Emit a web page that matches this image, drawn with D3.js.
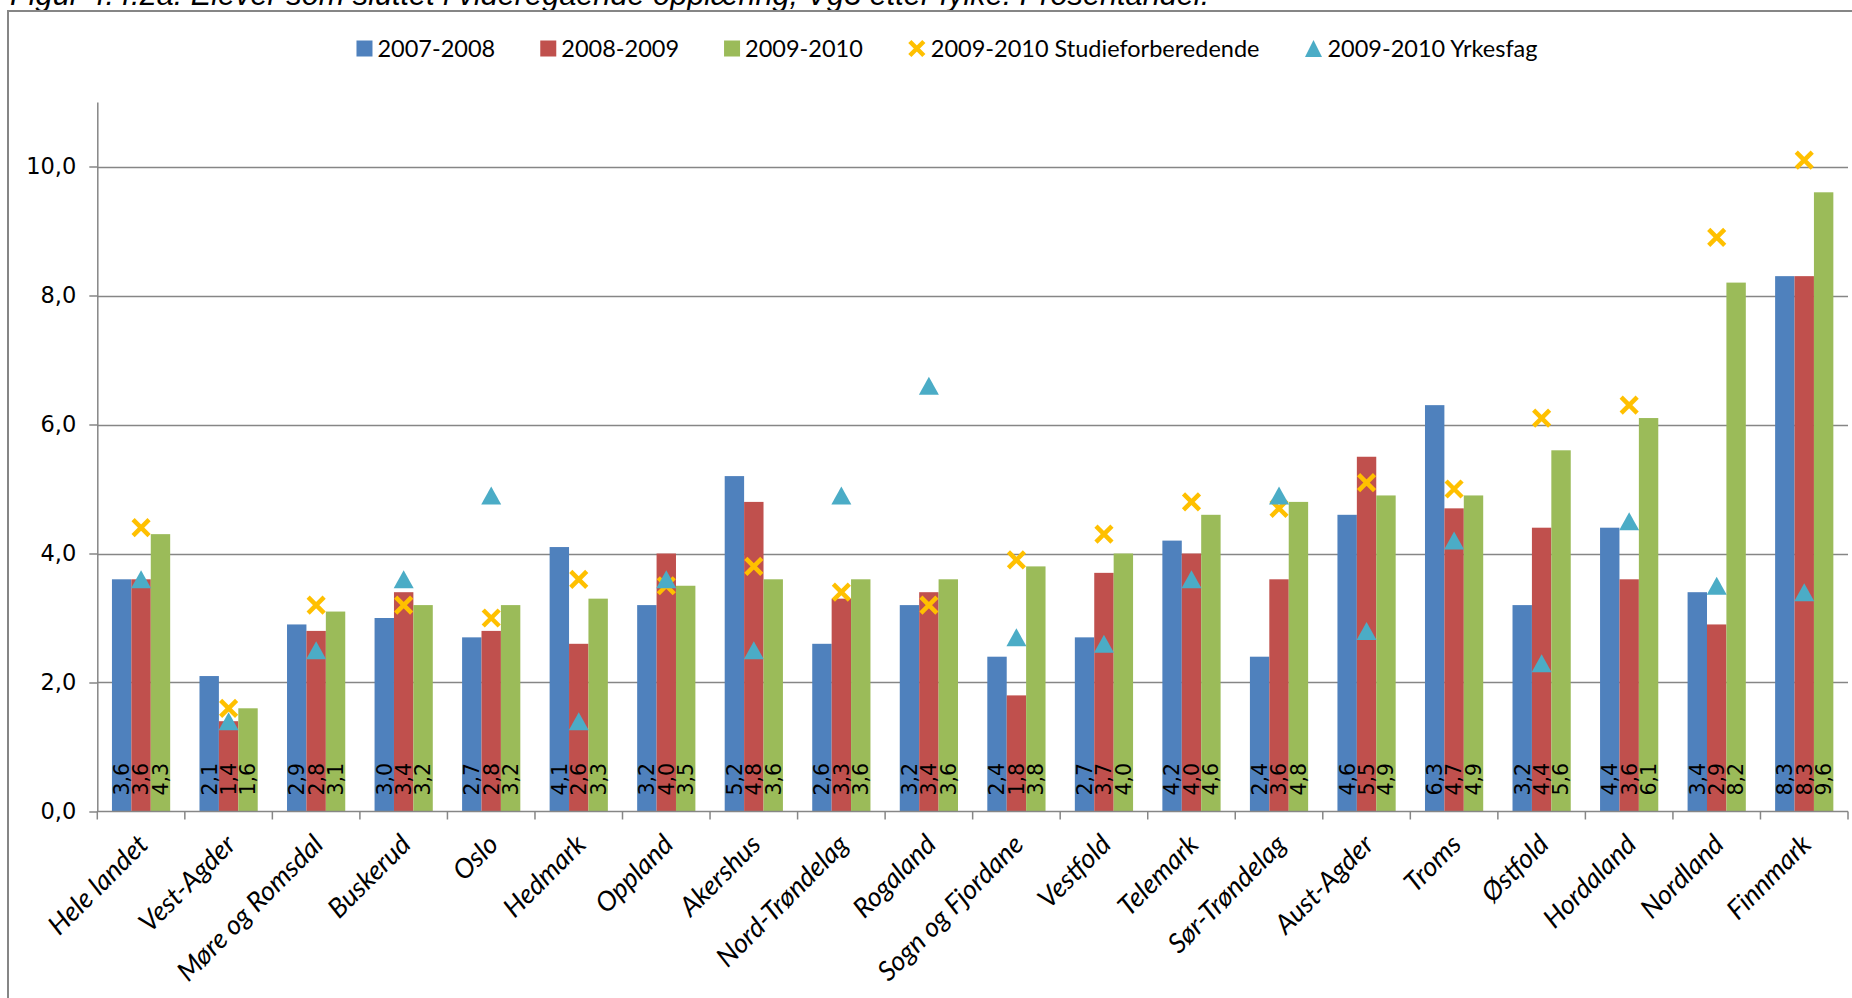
<!DOCTYPE html>
<html>
<head>
<meta charset="utf-8">
<script src="https://cdn.jsdelivr.net/npm/d3@7"></script>
<style>
  html, body { margin: 0; padding: 0; background: #fff; overflow: hidden; }
  svg { display: block; }
</style>
</head>
<body>
<svg id="chart" width="1852" height="998"></svg>
<script>
// ---------------- DATA ----------------
const titleText = "Figur 4.4.2a: Elever som sluttet i videregående opplæring, Vg3 etter fylke. Prosentandel.";
const categories = ["Hele landet","Vest-Agder","Møre og Romsdal","Buskerud","Oslo","Hedmark","Oppland","Akershus","Nord-Trøndelag","Rogaland","Sogn og Fjordane","Vestfold","Telemark","Sør-Trøndelag","Aust-Agder","Troms","Østfold","Hordaland","Nordland","Finnmark"];
const seriesNames = ["2007-2008","2008-2009","2009-2010"];
const values2007 = [3.6,2.1,2.9,3.0,2.7,4.1,3.2,5.2,2.6,3.2,2.4,2.7,4.2,2.4,4.6,6.3,3.2,4.4,3.4,8.3];
const values2008 = [3.6,1.4,2.8,3.4,2.8,2.6,4.0,4.8,3.3,3.4,1.8,3.7,4.0,3.6,5.5,4.7,4.4,3.6,2.9,8.3];
const values2009 = [4.3,1.6,3.1,3.2,3.2,3.3,3.5,3.6,3.6,3.6,3.8,4.0,4.6,4.8,4.9,4.9,5.6,6.1,8.2,9.6];
const studieName = "2009-2010 Studieforberedende";
const studieValues = [4.4,1.6,3.2,3.2,3.0,3.6,3.5,3.8,3.4,3.2,3.9,4.3,4.8,4.7,5.1,5.0,6.1,6.3,8.9,10.1];
const yrkesName = "2009-2010 Yrkesfag";
const yrkesValues = [3.6,1.4,2.5,3.6,4.9,1.4,3.6,2.5,4.9,6.6,2.7,2.6,3.6,4.9,2.8,4.2,2.3,4.5,3.5,3.4];
const yTickValues = [0,2,4,6,8,10];
const yMax = 11;

// ---------------- STYLE ----------------
const barColors = ["#4F81BD","#C0504D","#9BBB59"];
const studieColor = "#FFC000";
const yrkesColor = "#4BACC6";
const axisColor = "#868686";
const calibriLike = "Lato, 'Open Sans', sans-serif";
const verdanaLike = "'DejaVu Sans', Verdana, sans-serif";

const svg = d3.select("#chart");
const seriesValues = [values2007, values2008, values2009];
const fmt = v => d3.format(".1f")(v).replace(".", ",");

// Title (partially clipped at top, as in reference)
const title = svg.append("text")
  .attr("x", 10).attr("y", 5)
  .attr("font-family", "'Liberation Sans', Arial, sans-serif")
  .attr("font-style", "italic")
  .attr("font-size", 20)
  .attr("fill", "#000")
  .text(titleText);
const tw = title.node().getComputedTextLength();
title.attr("font-size", 20 * 1200 / tw);

// Chart border
svg.append("rect")
  .attr("x", 8).attr("y", 11)
  .attr("width", 1900).attr("height", 1000)
  .attr("fill", "none").attr("stroke", axisColor).attr("stroke-width", 2);

// Scales
const x0 = d3.scaleBand().domain(categories).range([97.3, 1848]).paddingInner(0).paddingOuter(0);
const x1 = d3.scaleBand().domain(seriesNames).range([0, x0.bandwidth()]).paddingInner(0).paddingOuter(0.755);
const y = d3.scaleLinear().domain([0, yMax]).range([811.5, 102]);

// Gridlines
svg.append("g").selectAll("line")
  .data(yTickValues.filter(v => v > 0))
  .join("line")
  .attr("x1", x0.range()[0]).attr("x2", x0.range()[1])
  .attr("y1", d => Math.round(y(d)) + 0.5).attr("y2", d => Math.round(y(d)) + 0.5)
  .attr("stroke", axisColor).attr("stroke-width", 1.5);

// Y axis
const yAxis = svg.append("g")
  .attr("transform", `translate(${x0.range()[0]},0)`)
  .call(d3.axisLeft(y).tickValues(yTickValues).tickFormat(fmt).tickSize(8).tickSizeOuter(0).tickPadding(13));
yAxis.select(".domain").attr("stroke", axisColor).attr("stroke-width", 1.5);
yAxis.selectAll(".tick line").attr("stroke", axisColor).attr("stroke-width", 1.5);
yAxis.selectAll(".tick text")
  .attr("font-family", verdanaLike).attr("font-size", 22.5).attr("fill", "#000");

// Bars
const groups = svg.append("g").selectAll("g")
  .data(categories)
  .join("g")
  .attr("transform", d => `translate(${x0(d)},0)`);

groups.selectAll("rect")
  .data((d, i) => seriesNames.map((s, k) => ({ s, k, v: seriesValues[k][i] })))
  .join("rect")
  .attr("x", d => x1(d.s))
  .attr("width", x1.bandwidth())
  .attr("y", d => y(d.v))
  .attr("height", d => y(0) - y(d.v))
  .attr("fill", d => barColors[d.k]);

// Value labels (rotated, inside base)
groups.selectAll("text.val")
  .data((d, i) => seriesNames.map((s, k) => ({ s, k, v: seriesValues[k][i] })))
  .join("text")
  .attr("class", "val")
  .attr("transform", d => `translate(${x1(d.s) + x1.bandwidth() / 2},${y(0) - 16}) rotate(-90)`)
  .attr("dy", "0.36em")
  .attr("font-family", verdanaLike)
  .attr("font-size", 20.5)
  .attr("fill", "#000")
  .text(d => fmt(d.v));

// X axis line and ticks at category boundaries
const xAxisG = svg.append("g");
xAxisG.append("line")
  .attr("x1", x0.range()[0]).attr("x2", x0.range()[1])
  .attr("y1", y(0)).attr("y2", y(0))
  .attr("stroke", axisColor).attr("stroke-width", 1.5);
const boundaries = categories.map(c => x0(c)).concat([x0.range()[1]]);
xAxisG.selectAll("line.tk")
  .data(boundaries)
  .join("line")
  .attr("class", "tk")
  .attr("x1", d => d).attr("x2", d => d)
  .attr("y1", y(0)).attr("y2", y(0) + 8)
  .attr("stroke", axisColor).attr("stroke-width", 1.5);

// X labels (rotated -45, italic)
xAxisG.selectAll("text")
  .data(categories)
  .join("text")
  .attr("transform", d => `translate(${x0(d) + x0.bandwidth() / 2 + 2},${y(0) + 28}) rotate(-45)`)
  .attr("text-anchor", "end")
  .attr("dy", "0.35em")
  .attr("font-family", calibriLike)
  .attr("font-style", "italic")
  .attr("font-size", 27)
  .attr("fill", "#000")
  .text(d => d);

// Marker shapes
const xPath = (s) => `M${-s},${-s}L${s},${s}M${-s},${s}L${s},${-s}`;
const triPath = (w, h) => `M0,${-h / 2}L${w / 2},${h / 2}L${-w / 2},${h / 2}Z`;

// Studieforberedende markers (X)
svg.append("g").selectAll("path")
  .data(studieValues)
  .join("path")
  .attr("transform", (d, i) => `translate(${x0(categories[i]) + x0.bandwidth() / 2},${y(d)})`)
  .attr("d", xPath(8))
  .attr("stroke", studieColor).attr("stroke-width", 4.5).attr("fill", "none");

// Yrkesfag markers (triangle)
svg.append("g").selectAll("path")
  .data(yrkesValues)
  .join("path")
  .attr("transform", (d, i) => `translate(${x0(categories[i]) + x0.bandwidth() / 2},${y(d)})`)
  .attr("d", triPath(20, 18))
  .attr("fill", yrkesColor);

// Legend
const legendItems = [
  { name: seriesNames[0], type: "rect", color: barColors[0] },
  { name: seriesNames[1], type: "rect", color: barColors[1] },
  { name: seriesNames[2], type: "rect", color: barColors[2] },
  { name: studieName, type: "x", color: studieColor },
  { name: yrkesName, type: "tri", color: yrkesColor }
];
const legend = svg.append("g");
const legendCy = 48.5;
let cursor = 0;
const itemGs = legend.selectAll("g").data(legendItems).join("g");
itemGs.each(function (d) {
  const g = d3.select(this);
  if (d.type === "rect") {
    g.append("rect").attr("x", 0).attr("y", legendCy - 8).attr("width", 16).attr("height", 16).attr("fill", d.color);
  } else if (d.type === "x") {
    g.append("path").attr("transform", `translate(9,${legendCy})`).attr("d", xPath(7))
      .attr("stroke", d.color).attr("stroke-width", 4.5).attr("fill", "none");
  } else {
    g.append("path").attr("transform", `translate(9,${legendCy})`).attr("d", triPath(17, 17)).attr("fill", d.color);
  }
  const t = g.append("text")
    .attr("x", d.type === "rect" ? 21 : 23)
    .attr("y", legendCy).attr("dy", "0.36em")
    .attr("font-family", calibriLike).attr("font-size", 23.5).attr("fill", "#000")
    .text(d.name);
  d.w = (d.type === "rect" ? 21 : 23) + t.node().getComputedTextLength();
});
itemGs.attr("transform", d => { const tx = cursor; cursor += d.w + 45; return `translate(${tx},0)`; });
const totalW = cursor - 45;
legend.attr("transform", `translate(${947 - totalW / 2},0)`);
</script>
</body>
</html>
